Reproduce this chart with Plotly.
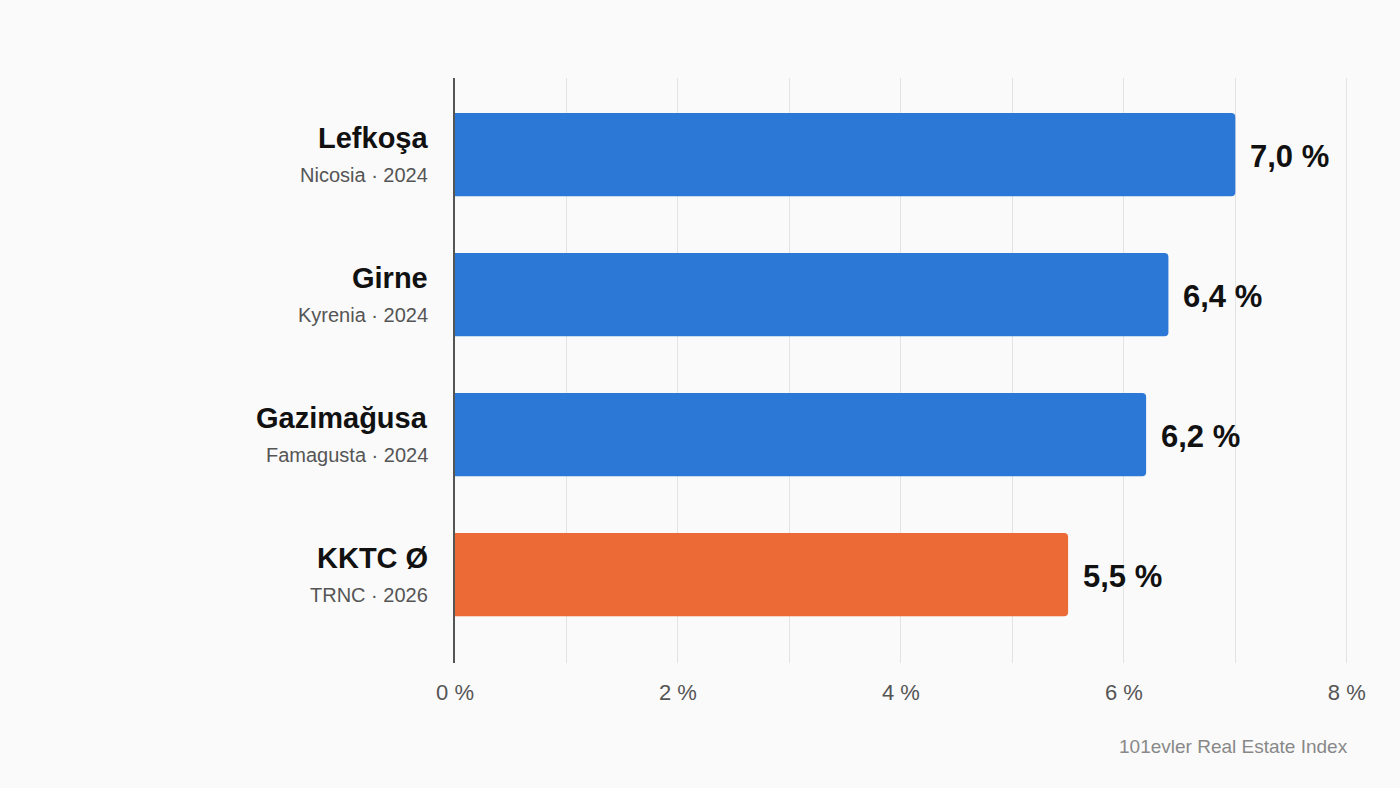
import plotly.graph_objects as go

# data
regions = ["Lefkoşa", "Girne", "Gazimağusa", "KKTC Ø"]
subtitles = ["Nicosia · 2024", "Kyrenia · 2024", "Famagusta · 2024", "TRNC · 2026"]
yields = [7.0, 6.4, 6.2, 5.5]
bar_colors = ["#2b78d6", "#2b78d6", "#2b78d6", "#eb6a36"]
x_ticks = [0, 1, 2, 3, 4, 5, 6, 7, 8]
x_ticktext = ["0 %", "", "2 %", "", "4 %", "", "6 %", "", "8 %"]

FONT = "Liberation Sans, Arial, sans-serif"

fig = go.Figure()
fig.add_trace(go.Bar(
    y=regions,
    x=yields,
    orientation="h",
    width=0.595,
    marker=dict(color=bar_colors, cornerradius=4, line=dict(width=0)),
    hoverinfo="skip",
))

annotations = []
for name, sub, val in zip(regions, subtitles, yields):
    # category name + subtitle on the left
    annotations.append(dict(
        x=0, y=name, xref="x", yref="y", xanchor="right", yanchor="middle",
        xshift=-25, yshift=17, showarrow=False,
        text="<b>" + name + "</b>", font=dict(family=FONT, size=29, color="#111111"),
    ))
    annotations.append(dict(
        x=0, y=name, xref="x", yref="y", xanchor="right", yanchor="middle",
        xshift=-25, yshift=-20, showarrow=False,
        text=sub, font=dict(family=FONT, size=20, color="#555555"),
    ))
    # value label at the end of the bar
    annotations.append(dict(
        x=val, y=name, xref="x", yref="y", xanchor="left", yanchor="middle",
        xshift=13, yshift=-2, showarrow=False,
        text="<b>" + ("%.1f" % val).replace(".", ",") + " %</b>",
        font=dict(family=FONT, size=31, color="#111111"),
    ))

annotations.append(dict(
    x=1, y=0, xref="paper", yref="paper", xanchor="right", yanchor="middle",
    xshift=1, yshift=-83, showarrow=False,
    text="101evler Real Estate Index", font=dict(family=FONT, size=19, color="#888888"),
))

fig.update_layout(
    width=1400, height=788,
    margin=dict(l=455, r=51, t=78, b=125),
    paper_bgcolor="#fafafa", plot_bgcolor="#fafafa",
    showlegend=False,
    annotations=annotations,
    font=dict(family=FONT),
)
fig.update_xaxes(
    range=[0, 8.02], tickvals=x_ticks, ticktext=x_ticktext,
    showgrid=True, gridcolor="#e3e3e3", gridwidth=1,
    zeroline=False, showline=False,
    ticks="outside", ticklen=10, tickcolor="rgba(0,0,0,0)",
    tickfont=dict(family=FONT, size=22, color="#555555"),
    fixedrange=True,
)
fig.update_yaxes(
    range=[3.631, -0.548], showticklabels=False, showgrid=False,
    showline=True, linecolor="#555555", linewidth=2,
    zeroline=False, fixedrange=True,
)

# page body: no margin, same off-white as the chart
page_js = "document.body.style.margin='0';document.body.style.background='#fafafa';"
fig.write_html("out.html", post_script=page_js, config={"displayModeBar": False})
